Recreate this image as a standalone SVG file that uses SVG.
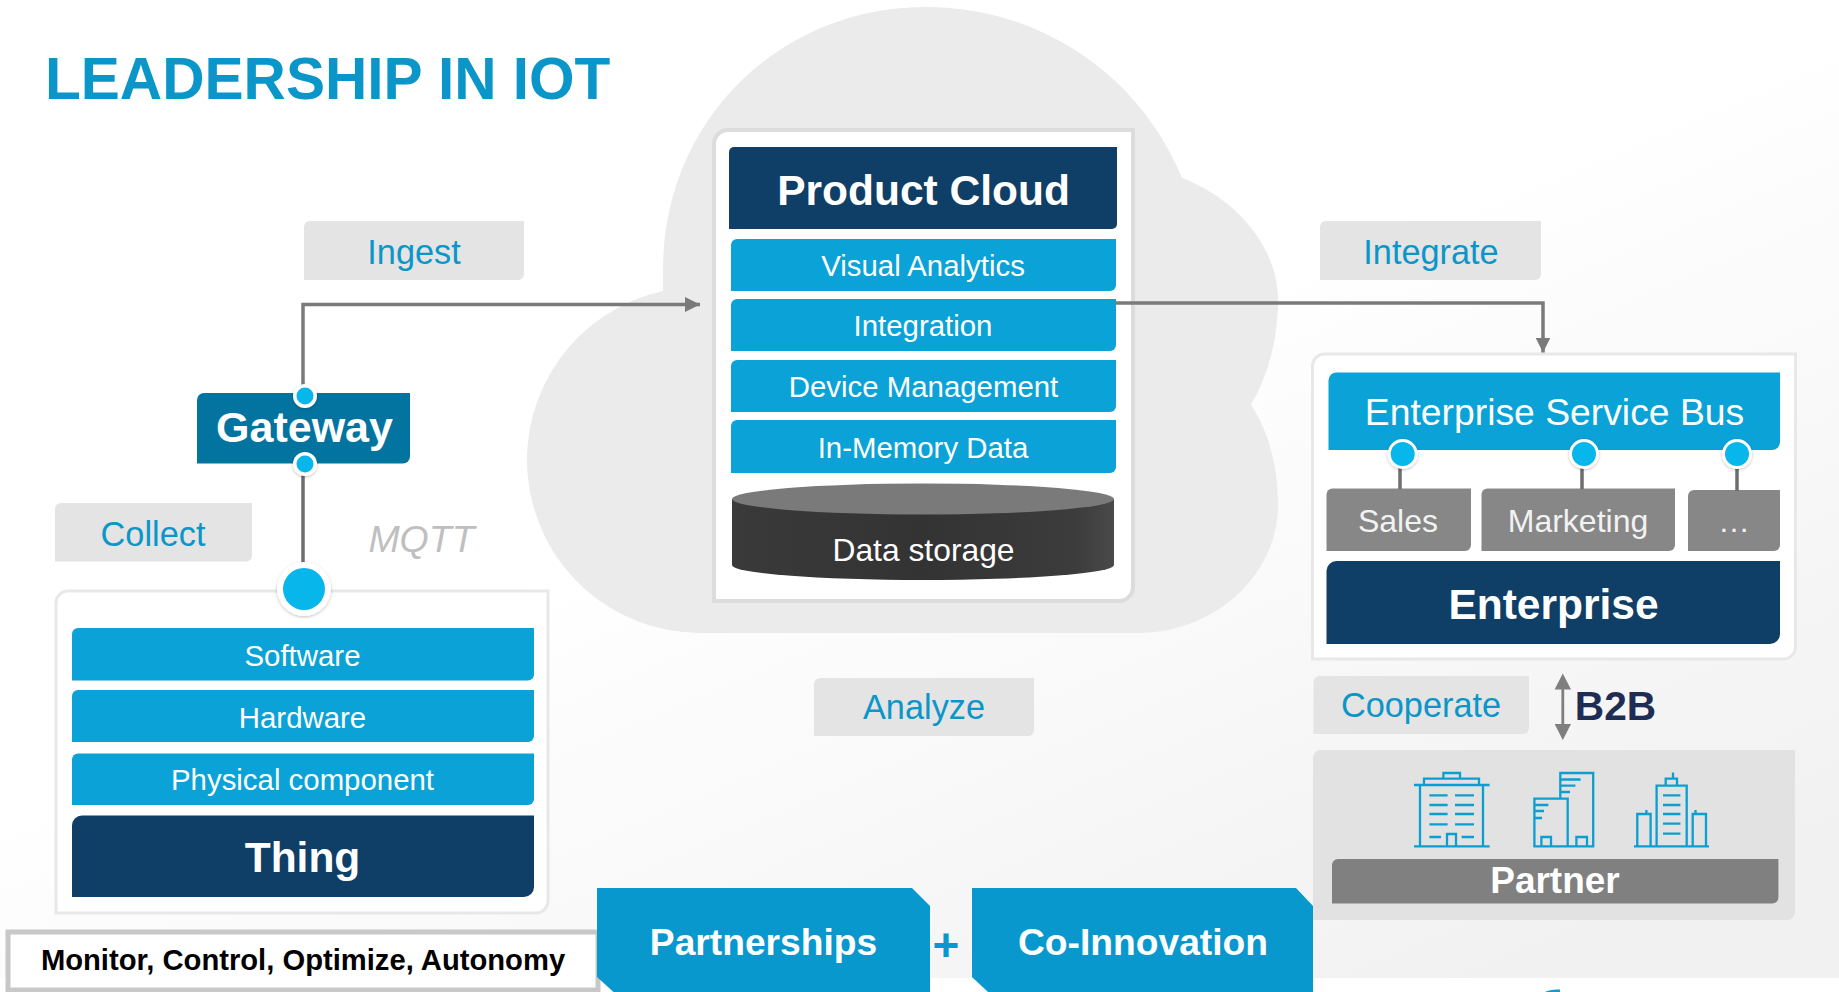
<svg xmlns="http://www.w3.org/2000/svg" width="1839" height="992" viewBox="0 0 1839 992">
<defs>
<linearGradient id="bg" x1="0.6" y1="0.35" x2="1" y2="0.85"><stop offset="0" stop-color="#ffffff"/><stop offset="1" stop-color="#f1f1f1"/></linearGradient>
<linearGradient id="cyl" x1="0" x2="1" y1="0" y2="0"><stop offset="0" stop-color="#3a3a3a"/><stop offset="0.5" stop-color="#333333"/><stop offset="0.9" stop-color="#3c3c3c"/><stop offset="1" stop-color="#4a4a4a"/></linearGradient>
<marker id="arrow" viewBox="0 0 14 14" refX="14" refY="7" markerWidth="15" markerHeight="15" markerUnits="userSpaceOnUse" orient="auto"><path d="M0 0L14 7L0 14Z" fill="#7a7a7a"/></marker>
<filter id="sh" x="-30%" y="-30%" width="160%" height="170%"><feDropShadow dx="0" dy="1" stdDeviation="1.5" flood-color="#000" flood-opacity="0.25"/></filter>
</defs>
<style>
text{font-family:"Liberation Sans",Arial,sans-serif;text-anchor:middle}
.blue{fill:#0ba2d7}
.dark{fill:#0f3e66}
.grey{fill:#878787}
.lab{fill:#e4e4e4}
.labt{fill:#0b96c9;font-size:34.300px}
.w29{fill:#fff;font-size:29.400px}
.b42{fill:#fff;font-size:42.500px;font-weight:bold}
.g31{fill:#f2f2f2;font-size:32px}
.frame{fill:#fff;stroke:#e8e8e8;stroke-width:3}
.wire{fill:none;stroke:#7a7a7a;stroke-width:3.5}
.stem{fill:none;stroke:#6e6e6e;stroke-width:3.5}
.ring{fill:#fff;filter:url(#sh)}
.dot{fill:#07b6ea}
.chev{fill:#0898cd}
.chevt{fill:#fff;font-size:37.200px;font-weight:bold}
.ico{fill:none;stroke:#0b9ed1;stroke-width:2.3}
</style>
<rect id="background" width="1839" height="978" fill="url(#bg)"/>
<path id="cloud" fill="#ebebeb" d="M700 633A173 173 0 0 1 663 291L663 270C663 120 780 7 926 7C1040 7 1140 75 1182 178C1240 200 1278 250 1278 300C1278 340 1268 375 1251 405C1268 430 1278 465 1278 505C1278 575 1215 633 1138 633Z"/>
<text x="45" y="98.500" style="font-size:58.600px;font-weight:bold;fill:#0b96c9;text-anchor:start">LEADERSHIP IN IOT</text>

<g id="ingest"><path class="lab" d="M310 221H524V274A6 6 0 0 1 518 280H304V227A6 6 0 0 1 310 221Z"/><text class="labt" x="414" y="264">Ingest</text></g>
<g id="integrate"><path class="lab" d="M1326 221H1541V274A6 6 0 0 1 1535 280H1320V227A6 6 0 0 1 1326 221Z"/><text class="labt" x="1431" y="264">Integrate</text></g>
<g id="analyze"><path class="lab" d="M820 678H1034V730A6 6 0 0 1 1028 736H814V684A6 6 0 0 1 820 678Z"/><text class="labt" x="924" y="719">Analyze</text></g>
<g id="collect"><path class="lab" d="M61 503H252V555.500A6 6 0 0 1 246 561.500H55V509A6 6 0 0 1 61 503Z"/><text class="labt" x="153" y="546">Collect</text></g>
<g id="mqtt"><text x="421.500" y="552" style="font-size:37.500px;font-style:italic;fill:#bfbfbf">MQTT</text></g>

<g id="thing-group">
<path class="frame" d="M68 591H548V901A12 12 0 0 1 536 913H56V603A12 12 0 0 1 68 591Z"/>
<g id="software"><path class="blue" d="M78 628H534V674.500A6 6 0 0 1 528 680.500H72V634A6 6 0 0 1 78 628Z"/><text class="w29" x="302.500" y="666">Software</text></g>
<g id="hardware"><path class="blue" d="M78 690H534V736A6 6 0 0 1 528 742H72V696A6 6 0 0 1 78 690Z"/><text class="w29" x="302.500" y="728">Hardware</text></g>
<g id="physical"><path class="blue" d="M78 753.500H534V799A6 6 0 0 1 528 805H72V759.500A6 6 0 0 1 78 753.500Z"/><text class="w29" x="302.500" y="790">Physical component</text></g>
<g id="thing"><path class="dark" d="M82 815.500H534V887A10 10 0 0 1 524 897H72V825.500A10 10 0 0 1 82 815.500Z"/><text class="b42" x="302.500" y="872">Thing</text></g>
</g>

<g id="gateway"><path d="M204 393H410V456.500A7 7 0 0 1 403 463.500H197V400A7 7 0 0 1 204 393Z" fill="#02749f"/><text x="304.500" y="442" style="font-size:43px;font-weight:bold;fill:#fff">Gateway</text></g>

<g id="monitor"><rect x="8" y="932" width="590" height="58" fill="#fff" stroke="#c8c8c8" stroke-width="5"/><text x="303" y="970" style="font-size:29.200px;font-weight:bold;fill:#000">Monitor, Control, Optimize, Autonomy</text></g>

<g id="product-cloud">
<path d="M728 130H1133V587A14 14 0 0 1 1119 601H714V144A14 14 0 0 1 728 130Z" fill="#fff" stroke="#dcdcdc" stroke-width="4"/>
<g id="product-title"><path class="dark" d="M734 147H1117V224A5 5 0 0 1 1112 229H729V152A5 5 0 0 1 734 147Z"/><text class="b42" x="923.500" y="205">Product Cloud</text></g>
<g id="visual-analytics"><path class="blue" d="M737 239H1116V285A6 6 0 0 1 1110 291H731V245A6 6 0 0 1 737 239Z"/><text class="w29" x="923" y="276">Visual Analytics</text></g>
<g id="integration"><path class="blue" d="M737 299H1116V345A6 6 0 0 1 1110 351H731V305A6 6 0 0 1 737 299Z"/><text class="w29" x="923" y="336">Integration</text></g>
<g id="device-management"><path class="blue" d="M737 360H1116V406A6 6 0 0 1 1110 412H731V366A6 6 0 0 1 737 360Z"/><text class="w29" x="923.500" y="397">Device Management</text></g>
<g id="in-memory"><path class="blue" d="M737 420H1116V467A6 6 0 0 1 1110 473H731V426A6 6 0 0 1 737 420Z"/><text class="w29" x="923" y="458">In-Memory Data</text></g>
<g id="data-storage">
<path d="M732 499V565A191 15 0 0 0 1114 565V499Z" fill="url(#cyl)"/>
<ellipse cx="923" cy="499" rx="191" ry="15.500" fill="#7a7a7a"/>
<text x="923.500" y="561" style="font-size:31.800px;fill:#fff">Data storage</text>
</g>
</g>

<g id="enterprise-group">
<path class="frame" d="M1324.500 354H1795.500V647A12 12 0 0 1 1783.500 659H1312.500V366A12 12 0 0 1 1324.500 354Z"/>
<g id="esb"><path class="blue" d="M1336.500 372.500H1780V442A8 8 0 0 1 1772 450H1328.500V380.500A8 8 0 0 1 1336.500 372.500Z"/><text x="1554.500" y="425" style="font-size:37.300px;fill:#fff">Enterprise Service Bus</text></g>
<g id="sales"><path class="grey" d="M1332.500 488.500H1471V545A6 6 0 0 1 1465 551H1326.500V494.500A6 6 0 0 1 1332.500 488.500Z"/><text class="g31" x="1398" y="532">Sales</text></g>
<g id="marketing"><path class="grey" d="M1487.500 488.500H1675V545A6 6 0 0 1 1669 551H1481.500V494.500A6 6 0 0 1 1487.500 488.500Z"/><text class="g31" x="1578" y="532">Marketing</text></g>
<g id="more"><path class="grey" d="M1694 490H1780V545A6 6 0 0 1 1774 551H1688V496A6 6 0 0 1 1694 490Z"/><text class="g31" x="1734" y="532">…</text></g>
<g id="enterprise"><path class="dark" d="M1336.500 561H1780V634A10 10 0 0 1 1770 644H1326.500V571A10 10 0 0 1 1336.500 561Z"/><text class="b42" x="1553.500" y="619">Enterprise</text></g>
</g>

<g id="cooperate"><path class="lab" d="M1319.500 676H1529V728A6 6 0 0 1 1523 734H1313.500V682A6 6 0 0 1 1319.500 676Z"/><text class="labt" x="1421" y="717">Cooperate</text></g>
<g id="b2b"><text x="1615.500" y="720" style="font-size:40.700px;font-weight:bold;fill:#1f2d55">B2B</text></g>

<g id="partner">
<path d="M1321 750H1795V912A8 8 0 0 1 1787 920H1313V758A8 8 0 0 1 1321 750Z" fill="#e2e2e2"/>
<g class="ico">
<path d="M1414 846.400H1489.600M1420 846.400V785M1483 846.400V785M1414 785H1489.600M1424 785V778.700H1479V785M1443.400 778.700V773H1460V778.700M1429.400 795.300H1447.600M1455 795.300H1474M1429.400 805H1447.600M1455 805H1474M1429.400 814H1447.600M1455 814H1474M1429.400 824.400H1447.600M1455 824.400H1474M1429.400 837H1441M1461.600 837H1474M1447 846.400V834H1456V846.400"/>
<path d="M1567.700 773H1593.200V846.400H1534.400V798.600H1567.700V846.400M1560.300 798.600V773H1567.700M1560.300 779.500H1580.600M1560.300 785.700H1575.400M1560.300 792H1570M1534.400 805H1548.400M1534.400 811H1544M1534.400 818H1542M1541.400 846.400V837H1551V846.400M1576.400 846.400V837H1587V846.400"/>
<path d="M1634 846.400H1709M1656.600 846.400V785.700H1686.700V846.400M1665.700 785.700V778.700H1677V785.700M1673 778.700V772.400M1663 795.300H1680.400M1663 805H1680.400M1663 814H1680.400M1663 823.600H1680.400M1663 833.600H1680.400M1637.300 846.400V814H1650.600V846.400M1692.700 846.400V814H1706V846.400M1646.400 814V810M1695.500 814V810"/>
</g>
<g id="partner-bar"><path d="M1338 859H1778.400V897.400A6 6 0 0 1 1772.400 903.400H1332V865A6 6 0 0 1 1338 859Z" fill="#808080"/><text x="1555" y="893" style="font-size:37px;font-weight:bold;fill:#fff">Partner</text></g>
</g>

<g id="partnerships"><path class="chev" d="M597 888H912L930 906V992H613.500L597 977Z"/><text class="chevt" x="763.500" y="955">Partnerships</text></g>
<g id="plus"><text x="946" y="961" style="font-size:46px;font-weight:bold;fill:#0898cd">+</text></g>
<g id="co-innovation"><path class="chev" d="M972 888H1296L1313 906V992H988L972 977Z"/><text class="chevt" x="1143" y="955">Co-Innovation</text></g>
<path id="corner-fragment" d="M1545 992Q1550 989 1560 989.500V992Z" fill="#0b9ed1"/>

<g id="connectors">
<path class="wire" d="M303 394V304.500H700" marker-end="url(#arrow)"/>
<path class="wire" d="M1116 303H1543V352.500" marker-end="url(#arrow)"/>
<path class="stem" d="M303 470V565"/>
<path class="stem" d="M1400 465V489M1582 465V489M1737 465V491"/>
<path d="M1562.800 673.500L1571 689.500H1564.200V724H1571L1562.800 740L1554.600 724H1561.400V689.500H1554.600Z" fill="#7f7f7f"/>
</g>

<g id="gateway-top-port"><circle class="ring" cx="305" cy="396" r="12"/><circle class="dot" cx="305" cy="396" r="8.500"/></g>
<g id="gateway-bottom-port"><circle class="ring" cx="305" cy="464" r="12"/><circle class="dot" cx="305" cy="464" r="8.500"/></g>
<g id="thing-port"><circle class="ring" cx="304" cy="589" r="27"/><circle class="dot" cx="304" cy="589" r="21"/></g>
<g id="port-sales"><circle class="ring" cx="1402.700" cy="454" r="15"/><circle class="dot" cx="1402.700" cy="454" r="12"/></g>
<g id="port-marketing"><circle class="ring" cx="1584" cy="454" r="15"/><circle class="dot" cx="1584" cy="454" r="12"/></g>
<g id="port-more"><circle class="ring" cx="1737" cy="454" r="15"/><circle class="dot" cx="1737" cy="454" r="12"/></g>
</svg>
